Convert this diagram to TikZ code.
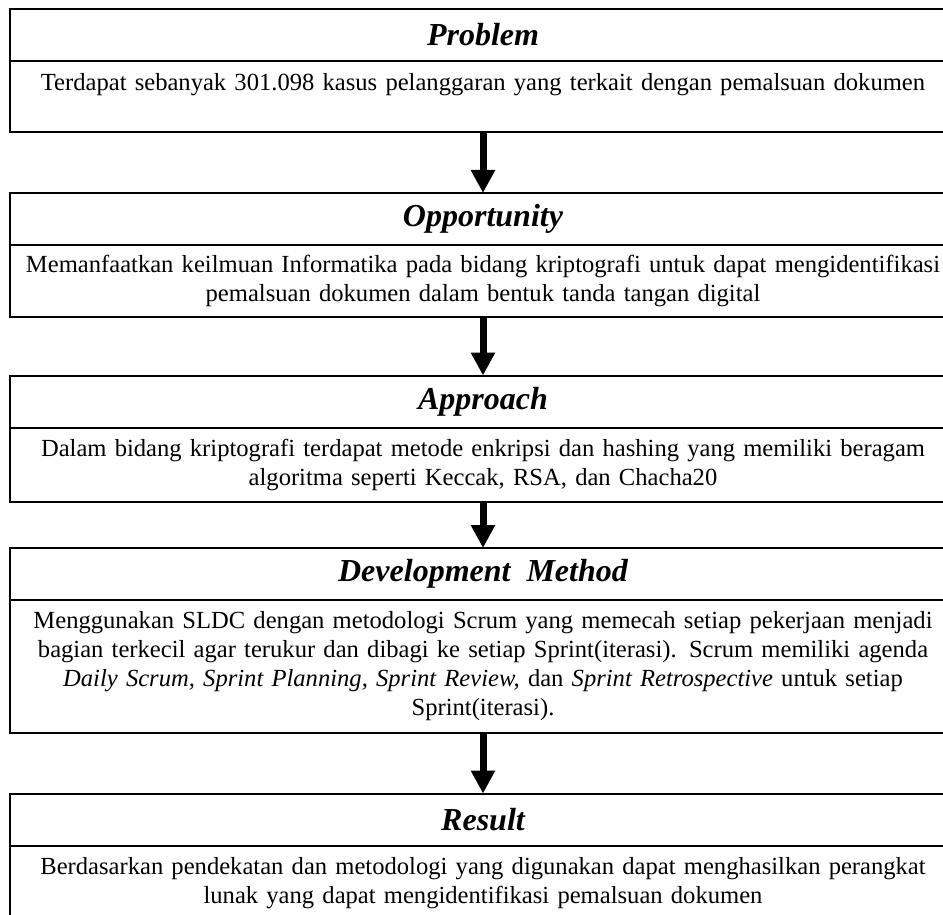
\documentclass[tikz,border=0pt]{standalone}
\usepackage{fontspec}
\setmainfont{Liberation Serif}
\usepackage{tikz}
\usetikzlibrary{positioning, arrows.meta}

\begin{document}
\begin{tikzpicture}[
    x=0.5pt, y=-0.5pt,
    head/.style={draw, line width=1pt, minimum width=473pt, minimum height=26pt,
                 inner sep=0pt, outer sep=0pt,
                 font=\fontsize{16}{19}\selectfont\bfseries\itshape},
    desc/.style={draw, line width=1pt, minimum width=473pt, text width=466pt,
                 inner xsep=2.5pt, inner ysep=2pt, outer sep=0pt, align=center,
                 font=\fontsize{12.3}{14.5}\selectfont},
    arr/.style={-{Triangle[length=11.5pt, width=11.5pt]}, line width=3.5pt}
]

\useasboundingbox (0,0) rectangle (943,915);

\def\xmid{483}

\node[head] (hprob) at (\xmid, 35) {Problem};
\node[desc, minimum height=35.5pt, below=0pt of hprob] (dprob)
  {Terdapat sebanyak 301.098 kasus pelanggaran yang terkait dengan pemalsuan dokumen\\ \mbox{}};

\node[head] (hopp) at (\xmid, 219) {Opportunity};
\node[desc, minimum height=36pt, below=0pt of hopp] (dopp)
  {Memanfaatkan keilmuan Informatika pada bidang kriptografi untuk dapat mengidentifikasi\\
   pemalsuan dokumen dalam bentuk tanda tangan digital};
\draw[arr] (dprob) -- (hopp);

\node[head] (happ) at (\xmid, 401.5) {Approach};
\node[desc, minimum height=37pt, below=0pt of happ] (dapp)
  {Dalam bidang kriptografi terdapat metode enkripsi dan hashing yang memiliki beragam\\
   algoritma seperti Keccak, RSA, dan Chacha20};
\draw[arr] (dopp) -- (happ);

\node[head] (hdev) at (\xmid, 574) {Development\ \ Method};
\node[desc, minimum height=66.5pt, below=0pt of hdev] (ddev)
  {Menggunakan SLDC dengan metodologi Scrum yang memecah setiap pekerjaan menjadi\\
   bagian terkecil agar terukur dan dibagi ke setiap Sprint(iterasi). Scrum memiliki agenda\\
   \textit{Daily Scrum, Sprint Planning, Sprint Review,} dan \textit{Sprint Retrospective} untuk setiap\\
   Sprint(iterasi).};
\draw[arr] (dapp) -- (hdev);

\node[head] (hres) at (\xmid, 819.5) {Result};
\node[desc, minimum height=38pt, below=0pt of hres] (dres)
  {Berdasarkan pendekatan dan metodologi yang digunakan dapat menghasilkan perangkat\\
   lunak yang dapat mengidentifikasi pemalsuan dokumen};
\draw[arr] (ddev) -- (hres);

\end{tikzpicture}
\end{document}
